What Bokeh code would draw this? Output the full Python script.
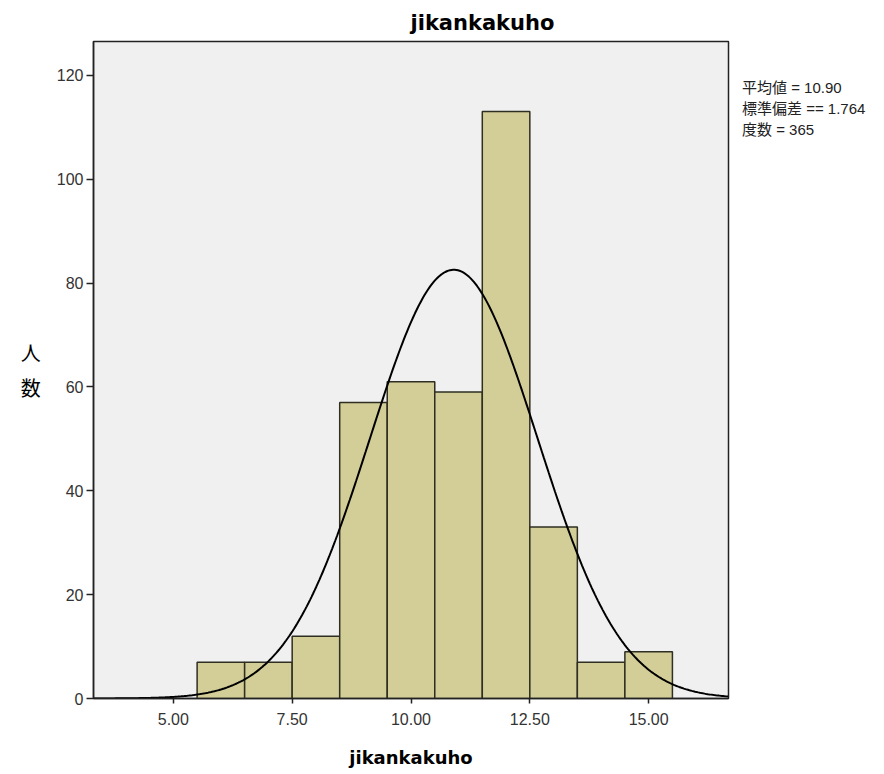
import numpy as np
from bokeh.plotting import figure
from bokeh.models import (Range1d, FixedTicker, NumeralTickFormatter, ColumnDataSource,
                          Legend, LegendItem)
from bokeh.embed import file_html
from bokeh.resources import INLINE

# ---- data ----
bin_left = [5.5, 6.5, 7.5, 8.5, 9.5, 10.5, 11.5, 12.5, 13.5, 14.5]
bin_right = [6.5, 7.5, 8.5, 9.5, 10.5, 11.5, 12.5, 13.5, 14.5, 15.5]
counts = [7, 7, 12, 57, 61, 59, 113, 33, 7, 9]
mean_val = 10.90
sd_val = 1.764
n_val = 365
bin_width = 1.0
x_ticks = [5.0, 7.5, 10.0, 12.5, 15.0]
y_ticks = [0, 20, 40, 60, 80, 100, 120]
title_text = "jikankakuho"
x_label = "jikankakuho"
y_label = "人\n数"
stats_lines = ["平均値 = 10.90", "標準偏差 == 1.764", "度数 = 365"]

x_min, x_max = 3.32, 16.68
y_min, y_max = 0, 126.5

p = figure(frame_width=635, frame_height=657, output_backend="svg", toolbar_location=None,
           x_range=Range1d(x_min, x_max), y_range=Range1d(y_min, y_max),
           min_border_left=93, min_border_right=150, min_border_top=41, min_border_bottom=70)

p.background_fill_color = "#F0F0F0"
p.border_fill_color = "white"
p.outline_line_color = "#222222"
p.outline_line_width = 1.5
p.xgrid.visible = False
p.ygrid.visible = False

src = ColumnDataSource(dict(left=bin_left, right=bin_right, top=counts))
p.quad(left="left", right="right", top="top", bottom=0, source=src,
       fill_color="#D3CE97", line_color="#2E2E22", line_width=1.5)

xs = np.linspace(x_min, x_max, 400)
ys = n_val * bin_width * np.exp(-0.5 * ((xs - mean_val) / sd_val) ** 2) / (sd_val * np.sqrt(2 * np.pi))
p.line(xs, ys, line_color="black", line_width=2)

# title
p.title.text = title_text
p.title.align = "left"
p.title.offset = 317
p.title.standoff = 13
p.title.text_font = "DejaVu Sans"
p.title.text_font_style = "bold"
p.title.text_font_size = "21px"
p.title.text_color = "black"

# axes
p.xaxis.ticker = FixedTicker(ticks=x_ticks)
p.xaxis.formatter = NumeralTickFormatter(format="0.00")
p.yaxis.ticker = FixedTicker(ticks=y_ticks)
for ax in (p.xaxis[0], p.yaxis[0]):
    ax.axis_line_color = "#222222"
    ax.axis_line_width = 1.5
    ax.major_tick_line_color = "#222222"
    ax.major_tick_line_width = 1.5
    ax.major_tick_in = 0
    ax.minor_tick_line_color = None
    ax.major_label_text_font = "Liberation Sans"
    ax.major_label_text_font_size = "16px"
    ax.major_label_text_color = "#333333"
p.xaxis.major_tick_out = 5
p.xaxis.major_label_standoff = 9
p.yaxis.major_tick_out = 7
p.yaxis.major_label_standoff = 3

p.xaxis.axis_label = x_label
p.xaxis.axis_label_text_font = "DejaVu Sans"
p.xaxis.axis_label_text_font_style = "bold"
p.xaxis.axis_label_text_font_size = "18px"
p.xaxis.axis_label_text_color = "black"
p.xaxis.axis_label_standoff = 19

p.yaxis.axis_label = y_label
p.yaxis.axis_label_orientation = "horizontal"
p.yaxis.axis_label_text_font = "Noto Sans CJK JP"
p.yaxis.axis_label_text_font_style = "normal"
p.yaxis.axis_label_text_font_size = "20px"
p.yaxis.axis_label_text_color = "black"
p.yaxis.axis_label_standoff = 13

# stats text as a legend without swatches, outside the frame on the right
dummy = p.line([], [], line_alpha=0)
items = [LegendItem(label=s, renderers=[dummy]) for s in stats_lines]
legend = Legend(items=items, location="top_left", orientation="vertical",
                title=" ", title_text_font_size="14px", title_standoff=19,
                glyph_width=0, glyph_height=17, label_height=17,
                label_standoff=14, spacing=0, padding=14, margin=0,
                border_line_color=None, background_fill_alpha=0,
                label_text_font="Liberation Sans, Noto Sans CJK JP", label_text_font_size="15px",
                label_text_color="#222222")
p.add_layout(legend, "right")

open("out.html", "w").write(file_html(p, INLINE))
